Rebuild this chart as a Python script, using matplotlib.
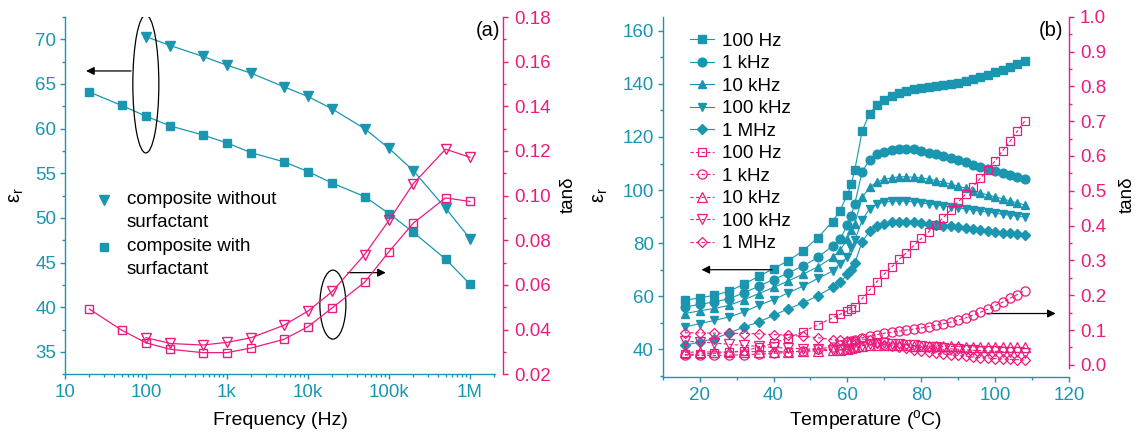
import matplotlib
matplotlib.use("Agg")
import matplotlib.pyplot as plt
from matplotlib.patches import Ellipse
from matplotlib.ticker import FixedLocator, FixedFormatter, MultipleLocator, NullFormatter, LogLocator

plt.rcParams['font.family'] = ['Liberation Sans', 'DejaVu Sans']
plt.rcParams['mathtext.default'] = 'regular'

TEAL = '#1A96B0'
PINK = '#EC1C7C'
FS = 13.5
LFS = 13.5

# ---------------- panel (a) data ----------------
freq_with = [20, 50, 100, 200, 500, 1e3, 2e3, 5e3, 1e4, 2e4, 5e4, 1e5, 2e5, 5e5, 1e6]
eps_with = [64.1, 62.6, 61.4, 60.3, 59.3, 58.4, 57.3, 56.3, 55.2, 53.9, 52.4, 50.5, 48.4, 45.4, 42.6]
tan_with = [0.0492, 0.0398, 0.0341, 0.0312, 0.0297, 0.0297, 0.0318, 0.0356, 0.0413, 0.0498,
            0.0612, 0.0749, 0.0877, 0.0990, 0.0974]

freq_without = [100, 200, 500, 1e3, 2e3, 5e3, 1e4, 2e4, 5e4, 1e5, 2e5, 5e5, 1e6]
eps_without = [70.3, 69.3, 68.1, 67.1, 66.2, 64.7, 63.6, 62.2, 60.0, 57.8, 55.3, 51.1, 47.7]
tan_without = [0.0364, 0.0338, 0.0331, 0.0343, 0.0364, 0.0419, 0.0483, 0.0571, 0.0736, 0.0889,
               0.1054, 0.1208, 0.1172]

freq_ticks = [10, 100, 1e3, 1e4, 1e5, 1e6]
freq_labels = ['10', '100', '1k', '10k', '100k', '1M']

# ---------------- panel (b) data ----------------
temp = [16, 20, 24, 28, 32, 36, 40, 44, 48, 52, 56, 58, 60, 61, 62,
        64, 66, 68, 70, 72, 74, 76, 78, 80, 82, 84, 86, 88, 90, 92, 94, 96, 98, 100, 102, 104, 106, 108]

eps_100Hz = [58.5, 59.4, 60.4, 61.9, 64.6, 67.5, 70.4, 73.4, 77.1, 82.1, 88.1, 92.3, 98.3, 102.1, 107.5,
             122.3, 128.8, 132.0, 134.1, 135.5, 136.4, 137.3, 137.9, 138.4, 138.8, 139.1, 139.5, 139.9,
             140.4, 140.9, 141.7, 142.4, 143.3, 144.3, 145.4, 146.4, 147.4, 148.6]
eps_1kHz = [56.0, 56.9, 57.9, 59.1, 61.3, 63.8, 66.3, 68.8, 71.4, 74.6, 79.0, 81.4, 86.8, 90.2, 94.9,
            106.9, 111.3, 113.4, 114.4, 115.2, 115.5, 115.5, 115.3, 114.8, 114.1, 113.4, 112.8, 112.0,
            111.3, 110.5, 109.6, 108.7, 107.9, 107.1, 106.4, 105.7, 105.0, 104.1]
eps_10kHz = [53.5, 54.5, 55.4, 56.6, 58.7, 61.0, 63.3, 65.8, 68.3, 71.1, 74.6, 77.3, 81.5, 84.9, 87.4,
             97.2, 101.0, 103.1, 104.0, 104.6, 105.0, 105.0, 104.8, 104.6, 104.1, 103.6, 103.0, 102.2,
             101.5, 100.7, 99.8, 98.9, 98.2, 97.4, 96.7, 95.9, 95.2, 94.4]
eps_100kHz = [48.4, 49.7, 50.9, 52.2, 54.1, 56.6, 58.7, 61.3, 63.8, 66.7, 69.5, 72.3, 74.8, 78.0, 81.1,
              88.6, 93.0, 94.7, 95.4, 95.8, 95.9, 95.8, 95.6, 95.2, 94.8, 94.4, 94.0, 93.7,
              93.3, 92.9, 92.5, 92.0, 91.7, 91.3, 90.9, 90.5, 90.2, 89.8]
eps_1MHz = [41.5, 42.8, 44.0, 46.2, 48.4, 50.3, 52.8, 55.3, 57.5, 60.2, 63.4, 65.3, 68.2, 70.0, 72.5,
            80.5, 84.5, 86.3, 87.3, 87.8, 88.0, 88.0, 87.9, 87.6, 87.3, 87.0, 86.6, 86.3,
            86.0, 85.6, 85.2, 84.9, 84.6, 84.3, 84.0, 83.7, 83.4, 83.1]

tan_100Hz = [0.030, 0.031, 0.033, 0.036, 0.041, 0.050, 0.062, 0.078, 0.095, 0.115, 0.135, 0.145, 0.155, 0.160, 0.165,
             0.190, 0.215, 0.239, 0.261, 0.281, 0.303, 0.322, 0.343, 0.363, 0.382, 0.403, 0.423, 0.446,
             0.468, 0.490, 0.512, 0.536, 0.560, 0.586, 0.615, 0.642, 0.671, 0.700]
tan_1kHz = [0.028, 0.027, 0.027, 0.028, 0.029, 0.031, 0.033, 0.036, 0.040, 0.045, 0.052, 0.057, 0.065, 0.068, 0.072,
            0.078, 0.083, 0.087, 0.091, 0.094, 0.097, 0.100, 0.103, 0.106, 0.110, 0.114, 0.118, 0.123,
            0.129, 0.135, 0.143, 0.151, 0.160, 0.170, 0.180, 0.191, 0.202, 0.213]
tan_10kHz = [0.036, 0.037, 0.037, 0.037, 0.038, 0.038, 0.038, 0.038, 0.039, 0.040, 0.042, 0.044, 0.046, 0.048, 0.050,
             0.055, 0.058, 0.058, 0.057, 0.057, 0.056, 0.056, 0.055, 0.055, 0.054, 0.054, 0.053, 0.053,
             0.053, 0.052, 0.052, 0.052, 0.051, 0.051, 0.051, 0.050, 0.050, 0.050]
tan_100kHz = [0.068, 0.066, 0.063, 0.059, 0.056, 0.053, 0.050, 0.048, 0.046, 0.045, 0.044, 0.044, 0.045, 0.046, 0.048,
              0.055, 0.060, 0.062, 0.062, 0.061, 0.060, 0.058, 0.056, 0.054, 0.052, 0.050, 0.048, 0.046,
              0.045, 0.043, 0.042, 0.041, 0.040, 0.039, 0.038, 0.037, 0.036, 0.035]
tan_1MHz = [0.092, 0.092, 0.091, 0.091, 0.090, 0.089, 0.087, 0.085, 0.082, 0.078, 0.072, 0.070, 0.068, 0.067, 0.068,
            0.074, 0.072, 0.062, 0.058, 0.054, 0.050, 0.047, 0.043, 0.040, 0.037, 0.034, 0.031, 0.029,
            0.027, 0.025, 0.023, 0.021, 0.020, 0.018, 0.017, 0.016, 0.015, 0.014]

freq_names = ['100 Hz', '1 kHz', '10 kHz', '100 kHz', '1 MHz']
markers = ['s', 'o', '^', 'v', 'D']

W, H = 1142, 436
fig = plt.figure(figsize=(W / 100, H / 100), dpi=100)


def style_axes(ax, axb):
    for s in ['top', 'right']:
        ax.spines[s].set_visible(False)
    for s in ['left', 'bottom']:
        ax.spines[s].set_color(TEAL)
        ax.spines[s].set_linewidth(1.0)
    for s in ['top', 'left', 'bottom']:
        axb.spines[s].set_visible(False)
    axb.spines['right'].set_color(PINK)
    axb.spines['right'].set_linewidth(1.0)
    ax.tick_params(which='both', direction='out', colors=TEAL, labelsize=FS, width=1.0)
    ax.tick_params(which='major', length=3.8, pad=2.5)
    ax.tick_params(which='minor', length=2.2)
    ax.tick_params(axis='x', pad=3.5)
    axb.tick_params(which='both', direction='out', colors=PINK, labelsize=FS, width=1.0)
    axb.tick_params(which='major', length=3.8, pad=4)
    axb.tick_params(which='minor', length=2.2)


# ================= panel (a) =================
ax1 = fig.add_axes([65 / W, 1 - 374.3 / H, 430 / W, 357.3 / H])
ax1b = ax1.twinx()
style_axes(ax1, ax1b)
ax1b.spines['right'].set_position(('outward', 5.8))

ax1.plot(freq_without, eps_without, '-', color=TEAL, lw=0.9, marker='v', ms=7, mfc=TEAL, mec=TEAL)
ax1.plot(freq_with, eps_with, '-', color=TEAL, lw=0.9, marker='s', ms=5.8, mfc=TEAL, mec=TEAL)
ax1b.plot(freq_without, tan_without, '-', color=PINK, lw=0.9, marker='v', ms=7.5, mfc='none', mec=PINK, mew=1.0)
ax1b.plot(freq_with, tan_with, '-', color=PINK, lw=0.9, marker='s', ms=6, mfc='none', mec=PINK, mew=1.0)

ax1.set_xscale('log')
ax1.set_xlim(10, 2.04e6)
ax1.set_ylim(32.5, 72.5)
ax1b.set_ylim(0.02, 0.18)
ax1.xaxis.set_major_locator(FixedLocator(freq_ticks))
ax1.xaxis.set_major_formatter(FixedFormatter(freq_labels))
ax1.xaxis.set_minor_locator(LogLocator(base=10, subs=range(2, 10)))
ax1.xaxis.set_minor_formatter(NullFormatter())
ax1.yaxis.set_major_locator(MultipleLocator(5))
ax1.yaxis.set_minor_locator(MultipleLocator(2.5))
ax1b.yaxis.set_major_locator(MultipleLocator(0.02))
ax1b.yaxis.set_minor_locator(MultipleLocator(0.01))
ax1b.yaxis.set_major_formatter(matplotlib.ticker.FormatStrFormatter('%.2f'))

# ellipses and arrows
ax1.add_patch(Ellipse((0.188, 0.8125), 0.0605, 0.386, transform=ax1.transAxes,
                      fill=False, ec='black', lw=0.9, zorder=5))
ax1.annotate('', xy=(0.049, 0.849), xytext=(0.1535, 0.849), xycoords='axes fraction',
             arrowprops=dict(arrowstyle='-|>', color='black', lw=0.9, mutation_scale=12,
                             shrinkA=0, shrinkB=0))
ax1.add_patch(Ellipse((0.623, 0.195), 0.0605, 0.193, transform=ax1.transAxes,
                      fill=False, ec='black', lw=0.9, zorder=5))
ax1.annotate('', xy=(0.746, 0.2845), xytext=(0.658, 0.2845), xycoords='axes fraction',
             arrowprops=dict(arrowstyle='-|>', color='black', lw=0.9, mutation_scale=12,
                             shrinkA=0, shrinkB=0))

# manual legend (a)
ax1.plot([0.0897], [0.488], marker='v', ms=7, color=TEAL, transform=ax1.transAxes, ls='none')
ax1.plot([0.0897], [0.357], marker='s', ms=5.8, color=TEAL, transform=ax1.transAxes, ls='none')
ax1.text(0.1437, 0.488, 'composite without', transform=ax1.transAxes, fontsize=LFS, va='center', ha='left')
ax1.text(0.1437, (374.3 - 222.7) / 357.3, 'surfactant', transform=ax1.transAxes, fontsize=LFS, va='center', ha='left')
ax1.text(0.1437, 0.357, 'composite with', transform=ax1.transAxes, fontsize=LFS, va='center', ha='left')
ax1.text(0.1437, (374.3 - 269.3) / 357.3, 'surfactant', transform=ax1.transAxes, fontsize=LFS, va='center', ha='left')

fig.text(500 / W, 1 - 30 / H, '(a)', fontsize=FS + 1, ha='right', va='center')
fig.text(16 / W, 1 - 195 / H, 'ε$_r$', fontsize=FS + 1, rotation=90, ha='center', va='center')
fig.text(568 / W, 1 - 195 / H, 'tanδ', fontsize=FS, rotation=90, ha='center', va='center')
fig.text(280 / W, 1 - 420 / H, 'Frequency (Hz)', fontsize=FS + 0.5, ha='center', va='center')

# ================= panel (b) =================
ax2 = fig.add_axes([662.7 / W, 1 - 376.7 / H, 406.3 / W, 360 / H])
ax2b = ax2.twinx()
style_axes(ax2, ax2b)

eps_series = [eps_100Hz, eps_1kHz, eps_10kHz, eps_100kHz, eps_1MHz]
tan_series = [tan_100Hz, tan_1kHz, tan_10kHz, tan_100kHz, tan_1MHz]
handles = []
for name, mk, ys in zip(freq_names, markers, eps_series):
    ms = 5.4 if mk in ('s', 'D') else 6.3
    h, = ax2.plot(temp, ys, '-', color=TEAL, lw=0.8, marker=mk, ms=ms, mfc=TEAL, mec=TEAL, label=name)
    handles.append(h)
for name, mk, ys in zip(freq_names, markers, tan_series):
    ms = 5.6 if mk in ('s', 'D') else 6.6
    h, = ax2b.plot(temp, ys, color=PINK, lw=0.8, ls=(0, (3, 2)), marker=mk, ms=ms,
                   mfc='none', mec=PINK, mew=0.9, label=name)
    handles.append(h)

ax2.set_xlim(10, 120)
ax2.set_ylim(29.7, 165.3)
ax2b.set_ylim(-0.034, 1.0)
ax2b.spines['right'].set_bounds(-0.008, 1.0)
ax2.xaxis.set_major_locator(MultipleLocator(20))
ax2.xaxis.set_minor_locator(MultipleLocator(10))
ax2.yaxis.set_major_locator(MultipleLocator(20))
ax2.yaxis.set_minor_locator(MultipleLocator(10))
ax2b.yaxis.set_major_locator(FixedLocator([i / 10 for i in range(11)]))
ax2b.yaxis.set_minor_locator(FixedLocator([0.05 + i / 10 for i in range(10)]))
ax2b.yaxis.set_major_formatter(matplotlib.ticker.FormatStrFormatter('%.1f'))

ax2.annotate('', xy=(20.5, 70.0), xytext=(39.6, 70.0),
             arrowprops=dict(arrowstyle='-|>', color='black', lw=0.9, mutation_scale=12,
                             shrinkA=0, shrinkB=0))
ax2.annotate('', xy=(116.4, 53.5), xytext=(97.8, 53.5),
             arrowprops=dict(arrowstyle='-|>', color='black', lw=0.9, mutation_scale=12,
                             shrinkA=0, shrinkB=0), annotation_clip=False)

leg = ax2.legend(handles=handles, loc='upper left', bbox_to_anchor=(0.067, 0.955),
                 frameon=False, fontsize=LFS, borderpad=0, borderaxespad=0,
                 handlelength=1.3, handletextpad=0.4, labelspacing=0.285, numpoints=1)
leg.set_zorder(10)

fig.text(1063 / W, 1 - 30 / H, '(b)', fontsize=FS + 1, ha='right', va='center')
fig.text(601 / W, 1 - 195 / H, 'ε$_r$', fontsize=FS + 1, rotation=90, ha='center', va='center')
fig.text(1127 / W, 1 - 195 / H, 'tanδ', fontsize=FS, rotation=90, ha='center', va='center')
fig.text(866 / W, 1 - 420 / H, 'Temperature ($^{o}$C)', fontsize=FS + 0.5, ha='center', va='center')

fig.savefig('out.png', dpi=100)
